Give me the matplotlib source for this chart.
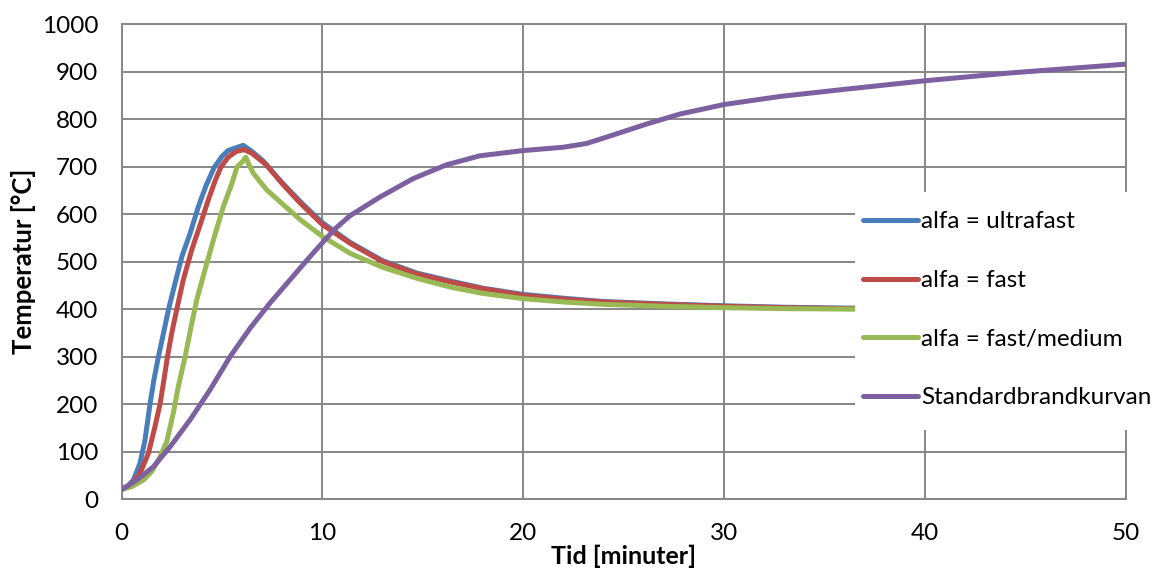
import matplotlib
matplotlib.use("Agg")
import matplotlib.pyplot as plt
from matplotlib.patches import Rectangle

# ---- data ----
t_ultra = [0, 0.3, 0.58, 0.91, 1.16, 1.41, 1.6, 1.83, 2.08, 2.33, 2.66, 3.0, 3.41, 3.82, 4.2,
           4.6, 5.0, 5.3, 5.7, 6.05, 6.4, 7.05, 7.5, 8.0, 8.5, 9.0, 10, 11.4, 13, 14.7, 16.4,
           18, 20, 22, 24, 27, 30, 33, 36.5, 50]
T_ultra = [20, 27, 40, 75, 124, 200, 250, 300, 349, 399, 455, 511, 560, 616, 660,
           698, 722, 734, 740, 745, 735, 712, 690, 666, 644, 622, 582, 540, 502, 476, 459,
           444, 431, 423, 416, 411, 407, 404, 402, 400]

t_fast = [0, 0.45, 0.91, 1.33, 1.66, 1.91, 2.1, 2.28, 2.49, 2.74, 3.07, 3.49, 3.99, 4.32,
          4.65, 4.95, 5.3, 5.7, 6.1, 6.5, 7.2, 8.0, 8.9, 10, 11.4, 13, 14.7, 16.4, 18, 20,
          22, 24, 27, 30, 33, 36.5, 50]
T_fast = [20, 30, 54, 96, 153, 200, 250, 300, 349, 399, 462, 525, 588, 631,
          670, 700, 720, 732, 736, 728, 704, 664, 623, 578, 538, 500, 474, 457, 443, 429,
          421, 415, 410, 406, 403, 401, 400]

t_fastmed = [0, 0.5, 1.08, 1.5, 1.9, 2.24, 2.57, 2.82, 3.16, 3.49, 3.74, 4.15, 4.57, 5.07,
             5.45, 5.75, 6.0, 6.18, 6.35, 6.56, 6.9, 7.23, 8.05, 8.9, 10, 11.4, 13, 14.7,
             16.4, 18, 20, 22, 24, 27, 30, 33, 36.5, 50]
T_fastmed = [20, 26, 40, 58, 88, 120, 181, 237, 300, 370, 420, 483, 546, 617,
             660, 700, 710, 720, 703, 686, 668, 651, 620, 588, 553, 517, 488, 465,
             446, 433, 422, 415, 410, 406, 403, 401, 400, 400]

t_std = [0, 0.75, 1.58, 2.41, 3.41, 4.4, 5.4, 6.4, 7.39, 8.39, 9.39, 10, 10.65, 11.38, 12.86,
         14.52, 16.18, 17.84, 20, 21.99, 23.16, 24.49, 26.15, 27.81, 30, 32.79, 36, 40, 44.1, 50]
T_std = [20, 40, 68, 110, 167, 230, 300, 360, 413, 462, 511, 540, 570, 597, 636,
         675, 704, 723, 734, 741, 749, 767, 790, 811, 831, 848, 863, 881, 897, 916]

labels = ["alfa = ultrafast", "alfa = fast", "alfa = fast/medium", "Standardbrandkurvan"]
colors = ["#4A7EBB", "#BE4B48", "#98B954", "#7D60A0"]

x_ticks = [0, 10, 20, 30, 40, 50]
y_ticks = list(range(0, 1001, 100))

# ---- figure ----
W, H = 1158, 572
fig = plt.figure(figsize=(W / 100, H / 100), dpi=100)
fig.patch.set_facecolor("white")
ax = fig.add_axes([121.7 / W, 1 - 499 / H, (1125.5 - 121.7) / W, (499 - 24.3) / H])

font = "Lato"
grid_c = "#878787"

series = [(t_ultra, T_ultra), (t_fast, T_fast), (t_fastmed, T_fastmed), (t_std, T_std)]
handles = []
for (tt, TT), lab, c in zip(series, labels, colors):
    h, = ax.plot(tt, TT, color=c, lw=3.6, label=lab, solid_capstyle="round",
                 solid_joinstyle="round", zorder=3)
    handles.append(h)

ax.set_xlim(0, 50)
ax.set_ylim(0, 1000)
ax.set_xticks(x_ticks)
ax.set_yticks(y_ticks)
ax.grid(True, color=grid_c, lw=1.4)
ax.set_axisbelow(True)
for sp in ax.spines.values():
    sp.set_color(grid_c)
    sp.set_linewidth(1.4)
ax.tick_params(length=0, labelsize=17.5, colors="black")
ax.tick_params(axis="y", pad=17)
ax.tick_params(axis="x", pad=17)
for lbl in ax.get_xticklabels() + ax.get_yticklabels():
    lbl.set_family(font)

ax.set_ylabel("Temperatur [°C]", fontsize=18.5, fontweight="bold", family=font, labelpad=4)
ax.set_xlabel("Tid [minuter]", fontsize=18, fontweight="bold", family=font, labelpad=1)

# white legend area (overlaps plot and extends past it)
fig.patches.append(Rectangle((855 / W, 1 - 430 / H), (W - 855) / W, (430 - 192) / H,
                             transform=fig.transFigure, facecolor="white",
                             edgecolor="none", zorder=2))

leg = fig.legend(handles=handles, labels=labels, loc="upper left",
                 bbox_to_anchor=(858 / W, 1 - 206.5 / H), frameon=False,
                 prop={"family": font, "size": 17.5}, handlelength=2.25,
                 handletextpad=0.16, labelspacing=1.55, borderpad=0.2, borderaxespad=0)
leg.set_zorder(5)

fig.savefig("out.png", dpi=100)
